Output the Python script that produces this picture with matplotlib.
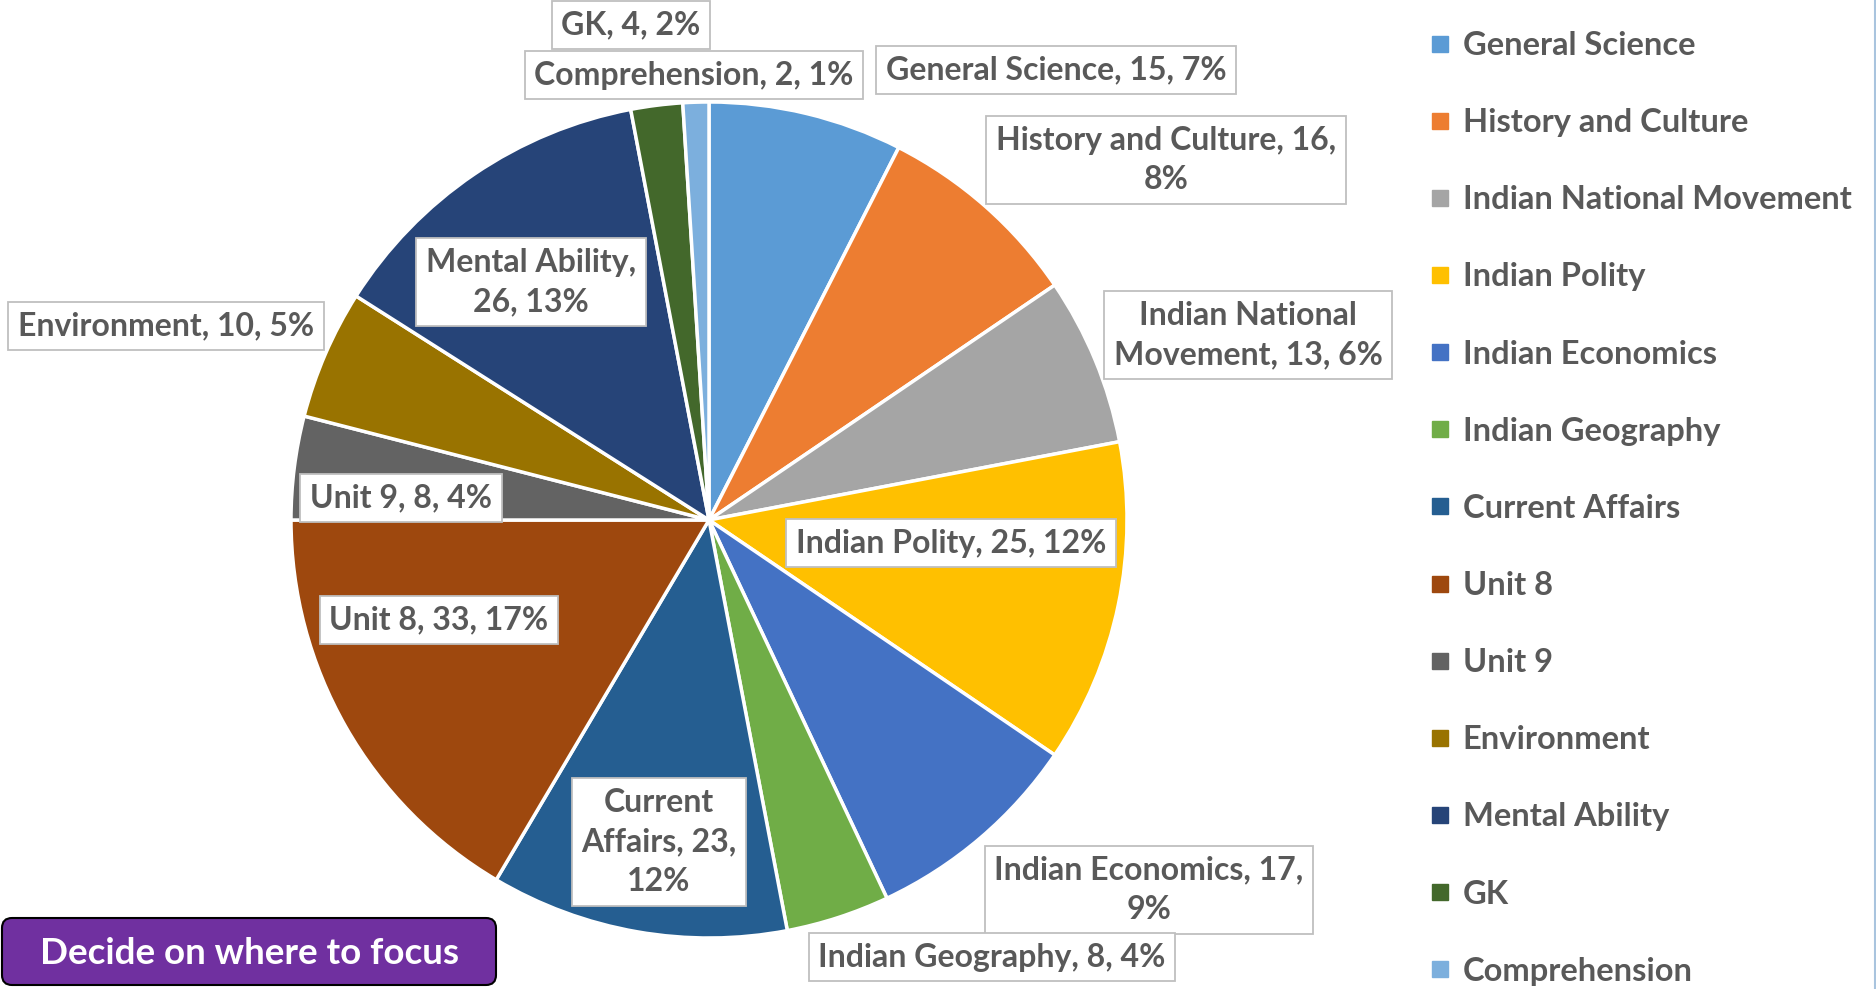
import matplotlib.pyplot as plt
from matplotlib.lines import Line2D
from matplotlib.patches import FancyBboxPatch

plt.rcParams['font.family'] = ['Lato', 'DejaVu Sans']

subjects = ['General Science', 'History and Culture', 'Indian National Movement',
            'Indian Polity', 'Indian Economics', 'Indian Geography', 'Current Affairs',
            'Unit 8', 'Unit 9', 'Environment', 'Mental Ability', 'GK', 'Comprehension']
counts = [15, 16, 13, 25, 17, 8, 23, 33, 8, 10, 26, 4, 2]
colors = ['#5B9BD5', '#ED7D31', '#A5A5A5', '#FFC000', '#4472C4', '#70AD47', '#255E91',
          '#9E480E', '#636363', '#997300', '#264478', '#43682B', '#7CAFDD']

# how each data label is wrapped (as in the original)
label_text = ['General Science, 15, 7%', 'History and Culture, 16,\n8%',
              'Indian National\nMovement, 13, 6%', 'Indian Polity, 25, 12%',
              'Indian Economics, 17,\n9%', 'Indian Geography, 8, 4%',
              'Current\nAffairs, 23,\n12%', 'Unit 8, 33, 17%', 'Unit 9, 8, 4%',
              'Environment, 10, 5%', 'Mental Ability,\n26, 13%', 'GK, 4, 2%',
              'Comprehension, 2, 1%']
# label centres in image pixels (x from left, y from top)
label_pos = [(1056, 70), (1166, 160), (1248, 335), (951, 543), (1149, 890),
             (992, 957), (659, 842), (439, 620), (401, 498), (166, 326),
             (531, 282), (631, 25), (694, 75)]

W, H = 1876, 989
fig = plt.figure(figsize=(W / 100, H / 100), dpi=100)
ax = fig.add_axes([0, 0, 1, 1])
ax.set_xlim(0, W)
ax.set_ylim(0, H)
ax.set_aspect('equal')
ax.axis('off')

wedges, _ = ax.pie(counts, colors=colors, startangle=90, counterclock=False,
                   center=(709, H - 520), radius=418,
                   wedgeprops=dict(edgecolor='white', linewidth=2.5))
ax.set_xlim(0, W)
ax.set_ylim(0, H)

for txt, (px, py) in zip(label_text, label_pos):
    ax.text(px, H - py, txt, ha='center', va='center', fontsize=23, fontweight='bold',
            color='#595959', linespacing=1.45,
            bbox=dict(boxstyle='square,pad=0.3', fc='white', ec='#BFBFBF', lw=1.3))

handles = [Line2D([], [], marker='s', ls='', color=c, markersize=11) for c in colors]
fig.legend(handles, subjects, loc='upper left', bbox_to_anchor=(1430 / W, 1 - 31 / H),
           frameon=False, labelcolor='#595959', handlelength=0.6,
           handletextpad=0.4, labelspacing=1.475, borderpad=0, borderaxespad=0,
           prop=dict(weight='bold', size=23.5))

# thin frame edge at the right side
ax.plot([W - 1.5, W - 1.5], [0, H], color='#A9C4DE', lw=1.5)

# purple button bottom-left
btn = FancyBboxPatch((2, 4), 494, 67, boxstyle='round,pad=0,rounding_size=10',
                     fc='#7030A0', ec='black', lw=1.5)
ax.add_patch(btn)
ax.text(249, 35, 'Decide on where to focus', ha='center', va='center',
        fontsize=26.5, fontweight='bold', color='white')

fig.savefig('out.png', dpi=100)
